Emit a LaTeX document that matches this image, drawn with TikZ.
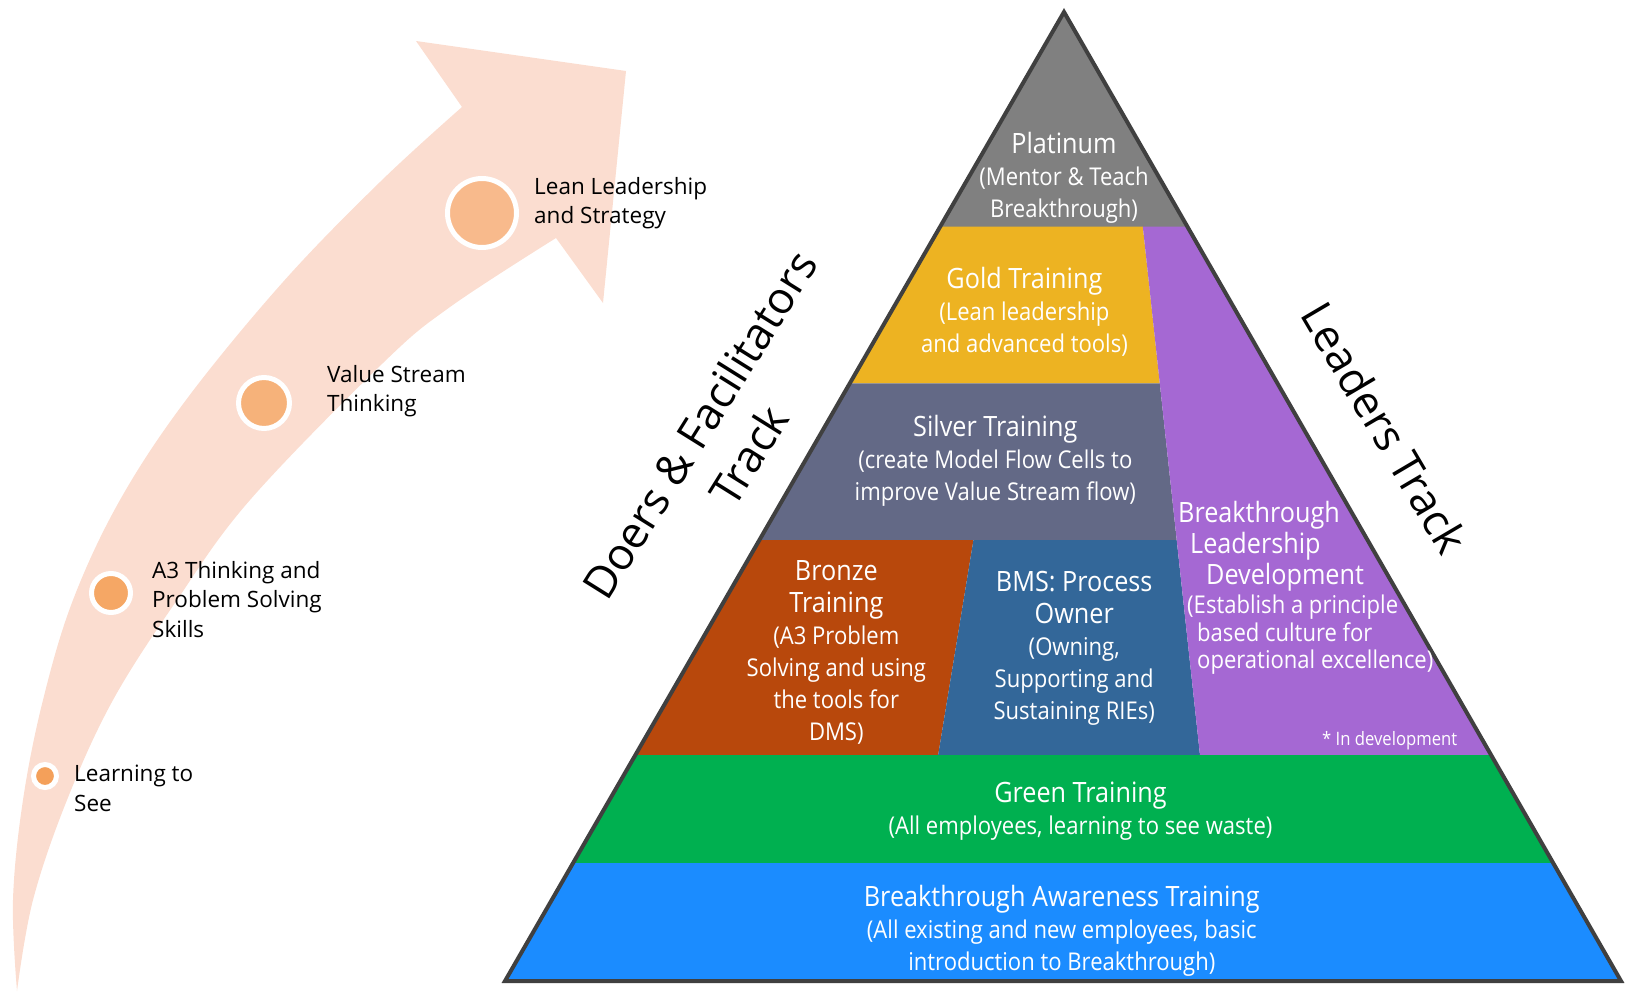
\documentclass[tikz,border=0pt]{standalone}
\usepackage{fontspec}
\setmainfont{Open Sans}
\newfontfamily\pyrfont[FakeStretch=0.9]{Open Sans}
\definecolor{arrowc}{RGB}{251,221,208}
\definecolor{platc}{RGB}{128,128,128}
\definecolor{goldc}{RGB}{237,179,34}
\definecolor{silvc}{RGB}{99,105,134}
\definecolor{bronc}{RGB}{184,72,12}
\definecolor{bmsc}{RGB}{51,103,153}
\definecolor{purpc}{RGB}{165,104,211}
\definecolor{greenc}{RGB}{0,176,80}
\definecolor{bluec}{RGB}{27,140,255}
\definecolor{outlc}{RGB}{64,64,64}
\definecolor{dotA}{RGB}{244,160,90}
\definecolor{dotB}{RGB}{245,167,101}
\definecolor{dotC}{RGB}{246,178,122}
\definecolor{dotD}{RGB}{248,186,140}
\newcommand\ttlsz{\fontsize{28}{32}\selectfont}
\begin{document}
\begin{tikzpicture}[x=1pt,y=-1pt,
 subtext/.style={font=\pyrfont\fontsize{24.5}{32}\selectfont, text=white, align=center, inner sep=0pt},
 ttlline/.style={font=\pyrfont\ttlsz, text=white, anchor=base west, inner sep=0pt},
 subline/.style={font=\pyrfont\fontsize{24.5}{32}\selectfont, text=white, anchor=base west, inner sep=0pt},
 lbl/.style={font=\fontsize{22.5}{29.5}\selectfont, text=black, align=left, anchor=north west, inner sep=0pt},
 tracktext/.style={font=\fontsize{44}{58}\selectfont, text=black, align=center, inner sep=0pt},
 stagedot/.style={circle, draw=white, line width=5pt, inner sep=0pt},
 pyroutline/.style={draw=outlc, line width=4pt, line join=miter}
]
\useasboundingbox (0,0) rectangle (1629,993);

% curved arrow
\fill[arrowc] plot[smooth, tension=0.6] coordinates {(17,991) (13,900) (23,800) (43,700) (73,600) (120,500) (186,400) (283,282) (380,182) (462,107)}
  -- (416,41) -- (626,71) -- (603,303) -- (556,238)
  -- plot[smooth, tension=0.6] coordinates {(556,238) (450,307) (383,363) (250,500) (177,600) (113,700) (67,800) (33,900) (17,991)} -- cycle;

% stage dots
\node[stagedot, fill=dotA, minimum size=23pt] (s1) at (45,776) {};
\node[stagedot, fill=dotB, minimum size=39pt] (s2) at (111,593) {};
\node[stagedot, fill=dotC, minimum size=51pt] (s3) at (264,403) {};
\node[stagedot, fill=dotD, minimum size=69pt] (s4) at (482,213) {};

% stage labels
\node[lbl] (l1) at (74,765) {Learning to\\See};
\node[lbl] (l2) at (152,561) {A3 Thinking and\\Problem Solving\\Skills};
\node[lbl] (l3) at (327,365) {Value Stream\\Thinking};
\node[lbl] (l4) at (534,177) {Lean Leadership\\and Strategy};

% pyramid bands
\begin{scope}
\clip (1064,12) -- (1621,981) -- (505,981) -- cycle;
\fill[platc] (400,0) rectangle (1629,227);
\fill[goldc] (400,226.5) -- (1142.8,226.5) -- (1159.8,383.4) -- (400,383.4) -- cycle;
\fill[silvc] (400,383.4) -- (1159.8,383.4) -- (1176.7,540.2) -- (400,540.2) -- cycle;
\fill[bronc] (400,540.2) -- (973.4,540.2) -- (938.1,755.3) -- (400,755.3) -- cycle;
\fill[bmsc] (973.4,540.2) -- (1176.7,540.2) -- (1200,755.3) -- (938.1,755.3) -- cycle;
\fill[purpc] (1142.8,226.5) -- (1629,226.5) -- (1629,755.3) -- (1200,755.3) -- cycle;
\fill[greenc] (400,755.3) rectangle (1629,863.3);
\fill[bluec] (400,863.3) rectangle (1629,993);
\end{scope}
\draw[pyroutline] (1064,12) -- (1621,981) -- (505,981) -- cycle;

% pyramid texts
\node[subtext] (plat) at (1064,178) {{\ttlsz Platinum}\\(Mentor \& Teach\\Breakthrough)};
\node[subtext] (gold) at (1024.4,312) {{\ttlsz Gold Training}\\(Lean leadership\\and advanced tools)};
\node[subtext] (silv) at (995.3,461) {{\ttlsz Silver Training}\\(create Model Flow Cells to\\improve Value Stream flow)};
\node[subtext] (bron) at (836.3,652) {{\ttlsz Bronze}\\{\ttlsz Training}\\(A3 Problem\\Solving and using\\the tools for\\DMS)};
\node[subtext] (bms) at (1074.2,648) {{\ttlsz BMS: Process}\\{\ttlsz Owner}\\(Owning,\\Supporting and\\Sustaining RIEs)};
\node[ttlline] (p1) at (1178,522.7) {Breakthrough};
\node[ttlline] (p2) at (1190,553.3) {Leadership};
\node[ttlline] (p3) at (1206,584) {Development};
\node[subline] (p4) at (1187,613) {(Establish a principle};
\node[subline] (p5) at (1197,641.7) {based culture for};
\node[subline] (p6) at (1197,668.3) {operational excellence)};
\node[subline, font=\pyrfont\fontsize{18.5}{22}\selectfont] (dev) at (1322,745) {* In development};
\node[subtext] (green) at (1080.5,811) {{\ttlsz Green Training}\\(All employees, learning to see waste)};
\node[subtext] (aware) at (1061.8,931) {{\ttlsz Breakthrough Awareness Training}\\(All existing and new employees, basic\\introduction to Breakthrough)};

% track labels
\node[tracktext, rotate=58] (doers) at (724,440) {Doers \& Facilitators\\Track};
\node[tracktext, rotate=-59.5] (leaders) at (1385,428) {Leaders Track};
\end{tikzpicture}
\end{document}
